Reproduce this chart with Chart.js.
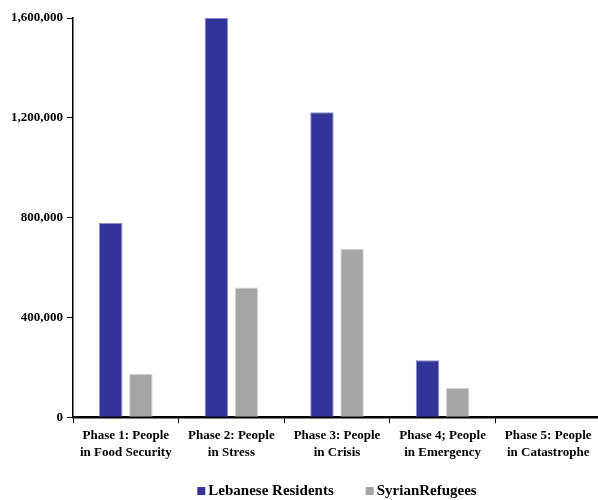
<!DOCTYPE html>
<html>
<head>
<meta charset="utf-8">
<script src="https://cdn.jsdelivr.net/npm/chart.js@4/dist/chart.umd.min.js"></script>
<style>
  html, body { margin: 0; padding: 0; background: #fff; overflow: hidden; }
  #wrap { width: 602px; height: 500px; position: relative; }
</style>
</head>
<body>
<div id="wrap"><canvas id="chart"></canvas></div>
<script>
// Food security phase classification, people per phase
const categories = [
  ["Phase 1: People", "in Food Security"],
  ["Phase 2: People", "in Stress"],
  ["Phase 3: People", "in Crisis"],
  ["Phase 4; People", "in Emergency"],
  ["Phase 5: People", "in Catastrophe"]
];
const lebaneseResidents = [778000, 1600000, 1222000, 228000, 0];
const syrianRefugees = [174000, 520000, 675000, 118000, 0];
const seriesNames = ["Lebanese Residents", "SyrianRefugees"];
const seriesColors = ["#333399", "#a6a6a6"];
const yTicks = [0, 400000, 800000, 1200000, 1600000];

const serif = "'Liberation Serif', 'Times New Roman', serif";

// Legend centred under the plot area rather than the whole canvas
const plotLegend = {
  id: "plotLegend",
  afterDraw(chart) {
    const { ctx, chartArea } = chart;
    const box = 8, boxGap = 3, itemGap = 32, y = 491;
    ctx.save();
    ctx.font = "bold 15px " + serif;
    ctx.textBaseline = "middle";
    const items = chart.data.datasets.map(ds => ({
      text: ds.label, color: ds.backgroundColor, w: ctx.measureText(ds.label).width
    }));
    const total = items.reduce((s, it) => s + box + boxGap + it.w, 0) + itemGap * (items.length - 1);
    let x = (chartArea.left + chartArea.right) / 2 - total / 2;
    items.forEach(it => {
      ctx.fillStyle = it.color;
      ctx.fillRect(x, y - box / 2, box, box);
      x += box + boxGap;
      ctx.fillStyle = "#000";
      ctx.fillText(it.text, x, y);
      x += it.w + itemGap;
    });
    ctx.restore();
  }
};

new Chart(document.getElementById("chart"), {
  type: "bar",
  data: {
    labels: categories,
    datasets: [
      {
        label: seriesNames[0],
        data: lebaneseResidents,
        backgroundColor: seriesColors[0],
        borderColor: "#8c8cc8",
        borderWidth: { left: 1, right: 1, top: 1, bottom: 0 },
        categoryPercentage: 0.57,
        barPercentage: 0.78
      },
      {
        label: seriesNames[1],
        data: syrianRefugees,
        backgroundColor: seriesColors[1],
        borderColor: "#d4d4d4",
        borderWidth: { left: 1, right: 1, top: 1, bottom: 0 },
        categoryPercentage: 0.57,
        barPercentage: 0.78
      }
    ]
  },
  plugins: [plotLegend],
  options: {
    responsive: true,
    maintainAspectRatio: false,
    animation: false,
    layout: { padding: { top: 18, left: 7, right: 1, bottom: 35 } },
    plugins: {
      tooltip: { enabled: false },
      legend: { display: false }
    },
    scales: {
      x: {
        grid: {
          display: true,
          drawOnChartArea: false,
          drawTicks: true,
          tickLength: 6,
          tickColor: "#000",
          offset: true
        },
        border: { color: "#000", width: 2.5 },
        ticks: {
          color: "#000",
          font: { family: serif, size: 13, weight: "bold", lineHeight: 1.3 },
          maxRotation: 0,
          autoSkip: false,
          padding: 4
        }
      },
      y: {
        min: 0,
        max: 1600000,
        afterBuildTicks(scale) {
          scale.ticks = yTicks.map(v => ({ value: v }));
        },
        grid: {
          display: true,
          drawOnChartArea: false,
          drawTicks: true,
          tickLength: 6,
          tickColor: "#000"
        },
        border: { color: "#000", width: 1.5 },
        ticks: {
          color: "#000",
          font: { family: serif, size: 13, weight: "bold" },
          padding: 4,
          callback: v => v.toLocaleString("en-US")
        }
      }
    }
  }
});
</script>
</body>
</html>
